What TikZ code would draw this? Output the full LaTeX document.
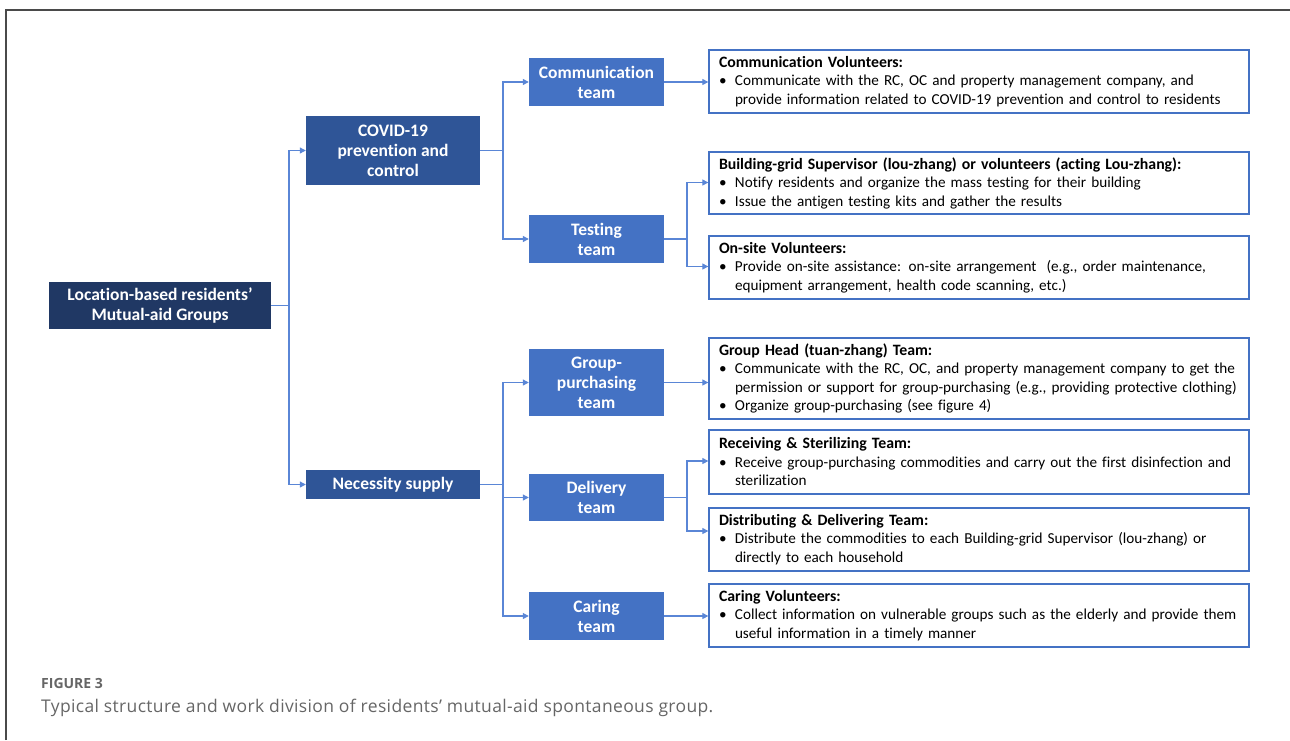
\documentclass[tikz,border=0pt]{standalone}
\usepackage{fontspec}
\setmainfont{Carlito}[Ligatures=NoCommon]
\newfontfamily\capfont{Open Sans}
\newfontfamily\capwide{Open Sans}[LetterSpace=2]
\usetikzlibrary{arrows.meta}
\definecolor{rootblue}{HTML}{203864}
\definecolor{midblue}{HTML}{2F5597}
\definecolor{teamblue}{HTML}{4472C4}
\definecolor{linkblue}{HTML}{5A86D6}
\definecolor{framegray}{HTML}{4A4A4A}
\definecolor{capgray}{HTML}{666666}
\newcommand\bul{\makebox[16pt][l]{\textbullet}}
\newcommand\cont{\hspace*{16pt}}
\newcommand\hd[1]{{\bfseries\fontsize{15.8}{18.5}\selectfont #1}}
\begin{document}
\begin{tikzpicture}[x=1pt,y=-1pt,
  filled/.style={draw=none, inner sep=0pt, text=white, align=center,
    font=\bfseries\fontsize{17.5}{20}\selectfont},
  rootbox/.style={filled, fill=rootblue, minimum width=222pt, minimum height=47pt},
  midbox/.style={filled, fill=midblue, minimum width=174pt},
  teambox/.style={filled, fill=teamblue, minimum width=135pt},
  duty/.style={draw=teamblue, line width=1.3pt, fill=white, text width=520pt,
    inner xsep=10pt, inner ysep=0pt, align=left,
    font=\fontsize{15.2}{18.5}\selectfont},
  link/.style={draw=linkblue, line width=1.1pt},
  arr/.style={link, -{Triangle[length=6pt,width=6pt]}}
]
\useasboundingbox (0,0) rectangle (1290,740);

% frame
\draw[framegray, line width=1.4pt] (6,740) -- (6,10) -- (1290,10);

% hierarchy boxes
\node[rootbox] (root) at (160,305.5) {Location-based residents'\\Mutual-aid Groups};
\node[midbox, minimum height=69pt] (covid) at (393,150.5) {COVID-19\\prevention and\\control};
\node[midbox, minimum height=29pt] (need) at (393,484.5) {Necessity supply};

\node[teambox, minimum height=48pt] (comm) at (596.5,82) {Communication\\team};
\node[teambox, minimum height=48pt] (test) at (596.5,239) {Testing\\team};
\node[teambox, minimum height=67pt] (group) at (596.5,382.5) {Group-\\purchasing\\team};
\node[teambox, minimum height=47pt] (deliv) at (596.5,497.5) {Delivery\\team};
\node[teambox, minimum height=48pt] (care) at (596.5,616) {Caring\\team};

% duty boxes
\node[duty, minimum height=63pt] (dcomm) at (979,81.5) {%
  \hd{Communication Volunteers:}\\
  \bul Communicate with the RC, OC and property management company, and\\
  \cont provide information related to COVID-19 prevention and control to residents};
\node[duty, minimum height=62pt] (dbldg) at (979,183) {%
  \hd{Building-grid Supervisor (lou-zhang) or volunteers (acting Lou-zhang):}\\
  \bul Notify residents and organize the mass testing for their building\\
  \bul Issue the antigen testing kits and gather the results};
\node[duty, minimum height=63pt] (dsite) at (979,267.5) {%
  \hd{On-site Volunteers:}\\
  \bul Provide on-site assistance: on-site arrangement\ \ (e.g., order maintenance,\\
  \cont equipment arrangement, health code scanning, etc.)};
\node[duty, minimum height=81pt] (dhead) at (979,378.5) {%
  \hd{Group Head (tuan-zhang) Team:}\\
  \bul Communicate with the RC, OC, and property management company to get the\\
  \cont permission or support for group-purchasing (e.g., providing protective clothing)\\
  \bul Organize group-purchasing (see figure 4)};
\node[duty, minimum height=64pt] (drecv) at (979,462) {%
  \hd{Receiving \& Sterilizing Team:}\\
  \bul Receive group-purchasing commodities and carry out the first disinfection and\\
  \cont sterilization};
\node[duty, minimum height=63pt] (ddist) at (979,539.5) {%
  \hd{Distributing \& Delivering Team:}\\
  \bul Distribute the commodities to each Building-grid Supervisor (lou-zhang) or\\
  \cont directly to each household};
\node[duty, minimum height=63pt] (dcare) at (979,615.5) {%
  \hd{Caring Volunteers:}\\
  \bul Collect information on vulnerable groups such as the elderly and provide them\\
  \cont useful information in a timely manner};

% branching points
\coordinate (j1) at (289,305.5);
\coordinate (j2) at (503,150.5);
\coordinate (j3) at (503,484.5);
\coordinate (j4) at (687,239);
\coordinate (j5) at (687,497.5);

% connectors
\draw[link] (root.east) -- (j1);
\draw[arr] (j1) |- (covid.west);
\draw[arr] (j1) |- (need.west);

\draw[link] (covid.east) -- (j2);
\draw[arr] (j2) |- (comm.west);
\draw[arr] (j2) |- (test.west);

\draw[link] (need.east) -- (j3);
\draw[arr] (j3) |- (group.west);
\draw[arr] (j3) |- (deliv.west);
\draw[arr] (j3) |- (care.west);

\draw[arr] (comm.east) -- (comm.east -| dcomm.west);
\draw[link] (test.east) -- (j4);
\draw[arr] (j4) |- ([yshift=0.5pt]dbldg.west);
\draw[arr] (j4) |- ([yshift=1pt]dsite.west);
\draw[arr] (group.east) -- (group.east -| dhead.west);
\draw[link] (deliv.east) -- (j5);
\draw[arr] (j5) |- ([yshift=1pt]drecv.west);
\draw[arr] (j5) |- ([yshift=8.5pt]ddist.west);
\draw[arr] (care.east) -- (care.east -| dcare.west);

% caption
\node[anchor=base west, inner sep=0pt, text=capgray, font=\capfont\bfseries\fontsize{14}{16}\selectfont] (fig) at (41,688) {FIGURE 3};
\node[anchor=base west, inner sep=0pt, text=capgray, font=\capwide\fontsize{17.5}{20}\selectfont] (cap) at (41,712) {Typical structure and work division of residents’ mutual-aid spontaneous group.};
\end{tikzpicture}
\end{document}
